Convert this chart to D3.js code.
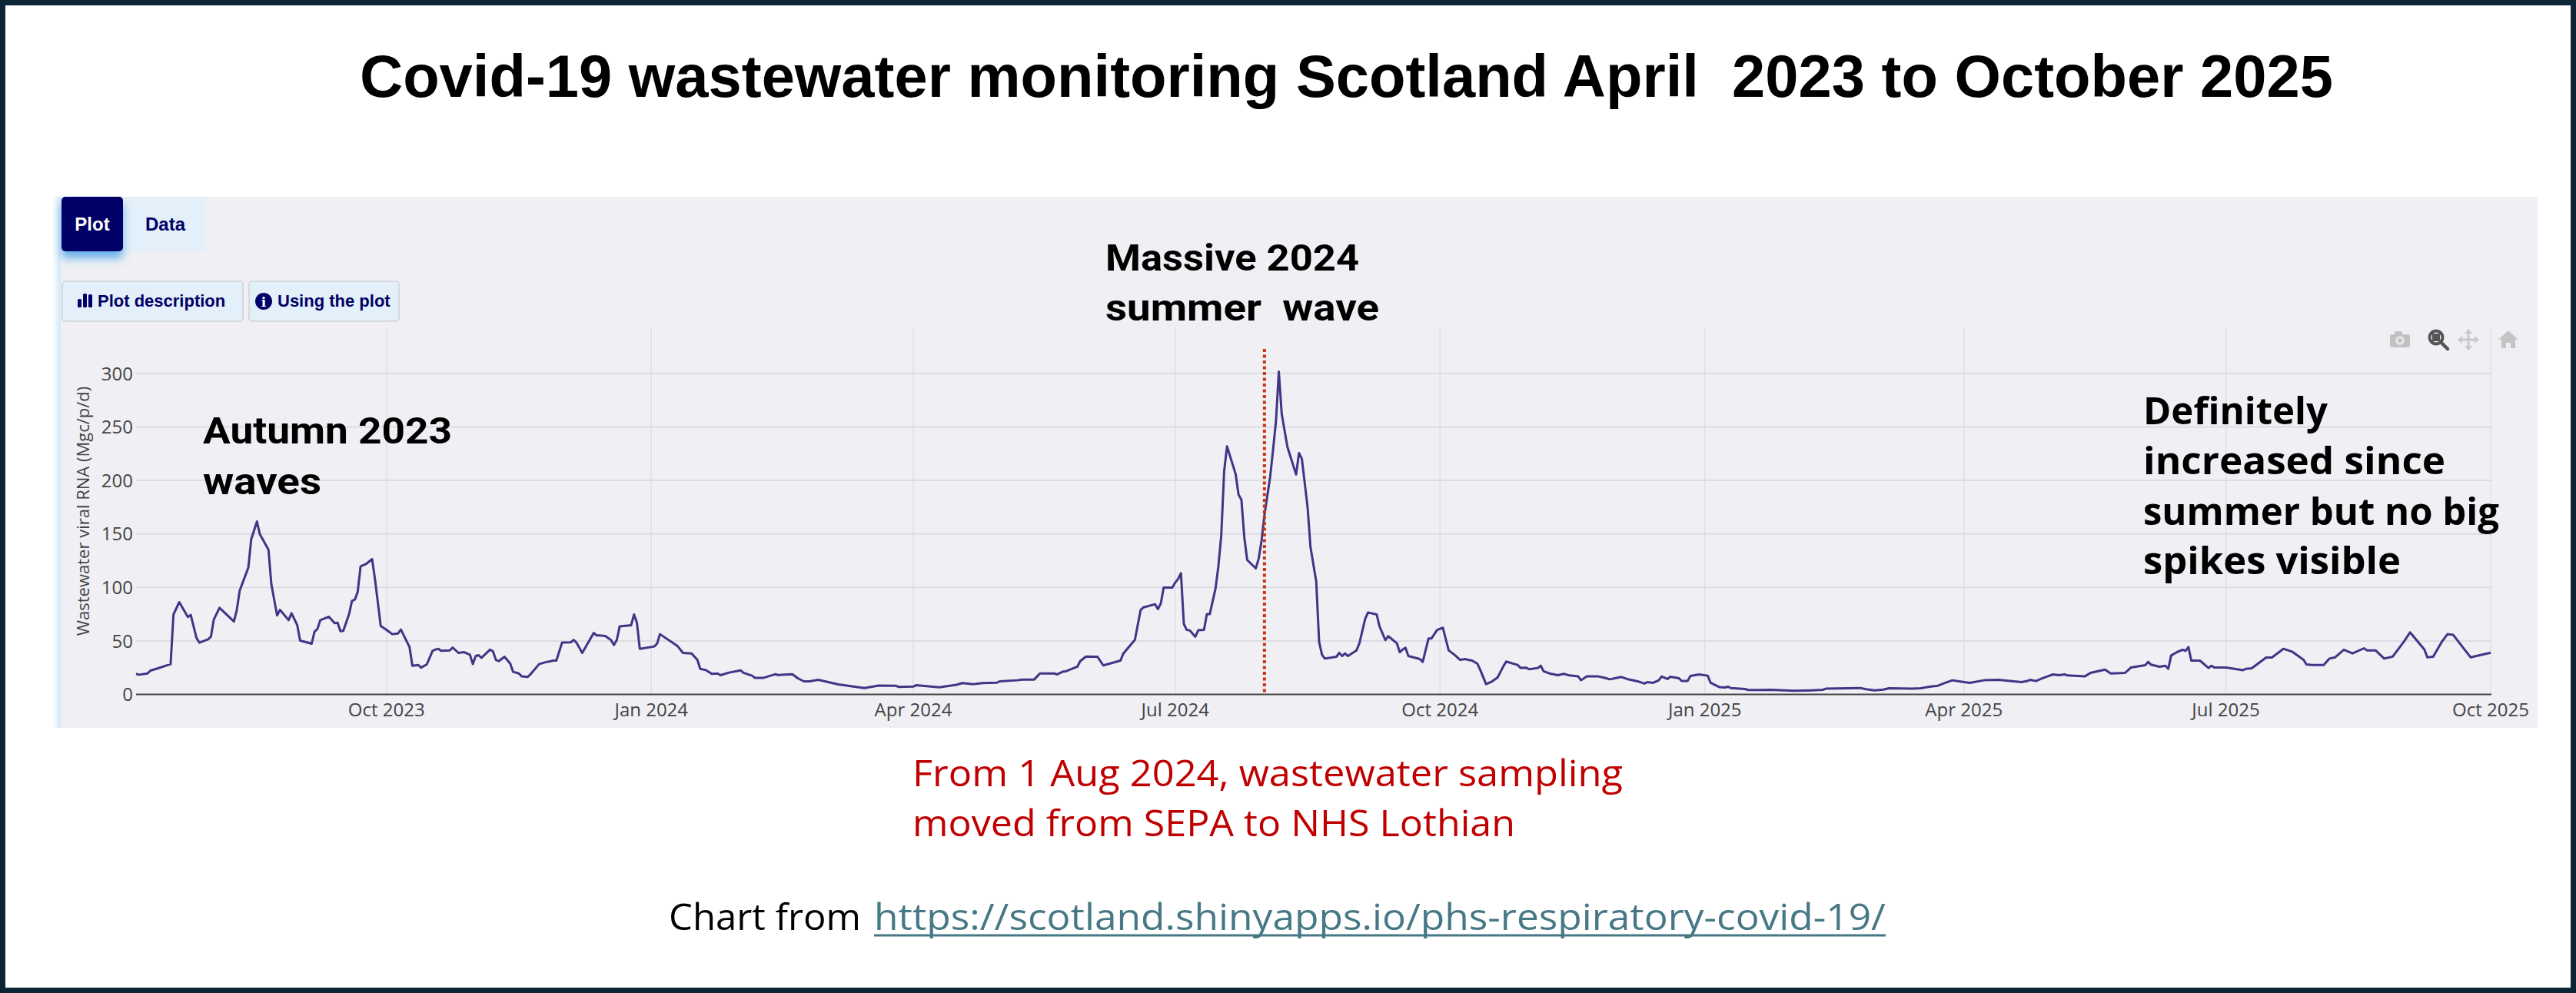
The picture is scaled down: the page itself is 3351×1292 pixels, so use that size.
<!DOCTYPE html>
<html>
<head>
<meta charset="utf-8">
<script src="https://cdn.jsdelivr.net/npm/d3@7"></script>
<style>
  html, body { margin: 0; padding: 0; background: #ffffff; }
  svg { display: block; }
</style>
</head>
<body>
<svg id="chart" width="3351" height="1292"></svg>
<script>
// values (7-day wastewater series, Mgc/p/d)
var sampleDates = [
  "2023-07-06","2023-07-07","2023-07-10","2023-07-11","2023-07-13","2023-07-18","2023-07-19","2023-07-21",
  "2023-07-24","2023-07-25","2023-07-27","2023-07-28","2023-07-31","2023-08-01","2023-08-02","2023-08-04",
  "2023-08-09","2023-08-10","2023-08-11","2023-08-14","2023-08-15","2023-08-17","2023-08-18","2023-08-21",
  "2023-08-22","2023-08-24","2023-08-25","2023-08-28","2023-08-29","2023-08-31","2023-09-01","2023-09-05",
  "2023-09-06","2023-09-07","2023-09-08","2023-09-11","2023-09-13","2023-09-14","2023-09-15","2023-09-16",
  "2023-09-18","2023-09-19","2023-09-20","2023-09-21","2023-09-22","2023-09-24","2023-09-26","2023-09-27",
  "2023-09-29","2023-10-01","2023-10-03","2023-10-05","2023-10-06","2023-10-09","2023-10-10","2023-10-12",
  "2023-10-13","2023-10-15","2023-10-17","2023-10-18","2023-10-19","2023-10-20","2023-10-23","2023-10-24",
  "2023-10-26","2023-10-28","2023-10-30","2023-10-31","2023-11-01","2023-11-02","2023-11-03","2023-11-06",
  "2023-11-07","2023-11-08","2023-11-09","2023-11-11","2023-11-13","2023-11-14","2023-11-16","2023-11-17",
  "2023-11-19","2023-11-20","2023-11-23","2023-11-25","2023-11-28","2023-11-29","2023-12-01","2023-12-04",
  "2023-12-05","2023-12-06","2023-12-08","2023-12-12","2023-12-13","2023-12-14","2023-12-16","2023-12-18",
  "2023-12-19","2023-12-20","2023-12-21","2023-12-25","2023-12-26","2023-12-27","2023-12-28","2024-01-02",
  "2024-01-03","2024-01-04","2024-01-10","2024-01-12","2024-01-15","2024-01-17","2024-01-18","2024-01-20",
  "2024-01-22","2024-01-24","2024-01-25","2024-01-28","2024-02-01","2024-02-02","2024-02-05","2024-02-06",
  "2024-02-09","2024-02-13","2024-02-14","2024-02-19","2024-02-21","2024-02-23","2024-02-25","2024-02-28",
  "2024-03-06","2024-03-15","2024-03-20","2024-03-26","2024-03-27","2024-04-01","2024-04-02","2024-04-10",
  "2024-04-16","2024-04-18","2024-04-22","2024-04-25","2024-04-30","2024-05-01","2024-05-07","2024-05-09",
  "2024-05-13","2024-05-15","2024-05-20","2024-05-21","2024-05-23","2024-05-24","2024-05-28","2024-05-29",
  "2024-05-31","2024-06-04","2024-06-06","2024-06-12","2024-06-13","2024-06-17","2024-06-19","2024-06-20",
  "2024-06-24","2024-06-25","2024-06-26","2024-06-27","2024-06-30","2024-07-01","2024-07-02","2024-07-03",
  "2024-07-04","2024-07-05","2024-07-06","2024-07-08","2024-07-09","2024-07-11","2024-07-12","2024-07-13",
  "2024-07-15","2024-07-16","2024-07-17","2024-07-18","2024-07-19","2024-07-22","2024-07-23","2024-07-24",
  "2024-07-25","2024-07-26","2024-07-29","2024-07-30","2024-07-31","2024-08-01","2024-08-03","2024-08-04",
  "2024-08-05","2024-08-06","2024-08-07","2024-08-09","2024-08-12","2024-08-13","2024-08-14","2024-08-16",
  "2024-08-17","2024-08-19","2024-08-20","2024-08-21","2024-08-22","2024-08-26","2024-08-27","2024-08-28",
  "2024-08-29","2024-08-30","2024-09-02","2024-09-03","2024-09-05","2024-09-06","2024-09-09","2024-09-10",
  "2024-09-12","2024-09-13","2024-09-16","2024-09-17","2024-09-18","2024-09-19","2024-09-20","2024-09-24",
  "2024-09-25","2024-09-27","2024-09-28","2024-09-30","2024-10-02","2024-10-04","2024-10-06","2024-10-08",
  "2024-10-10","2024-10-11","2024-10-12","2024-10-14","2024-10-15","2024-10-17","2024-10-19","2024-10-21",
  "2024-10-23","2024-10-24","2024-10-27","2024-10-28","2024-10-29","2024-10-31","2024-11-01","2024-11-04",
  "2024-11-05","2024-11-06","2024-11-08","2024-11-11","2024-11-13","2024-11-15","2024-11-18","2024-11-19",
  "2024-11-21","2024-11-25","2024-11-27","2024-11-29","2024-12-03","2024-12-05","2024-12-09","2024-12-11",
  "2024-12-12","2024-12-14","2024-12-16","2024-12-17","2024-12-19","2024-12-20","2024-12-23","2024-12-24",
  "2024-12-26","2024-12-27","2024-12-30","2025-01-02","2025-01-03","2025-01-06","2025-01-08","2025-01-09",
  "2025-01-10","2025-01-15","2025-01-16","2025-01-24","2025-02-01","2025-02-07","2025-02-11","2025-02-12",
  "2025-02-24","2025-02-26","2025-03-01","2025-03-04","2025-03-06","2025-03-14","2025-03-17","2025-03-20",
  "2025-03-23","2025-03-25","2025-03-28","2025-04-03","2025-04-08","2025-04-13","2025-04-21","2025-04-23",
  "2025-04-24","2025-04-26","2025-04-28","2025-04-30","2025-05-02","2025-05-04","2025-05-06","2025-05-07",
  "2025-05-13","2025-05-15","2025-05-20","2025-05-22","2025-05-27","2025-05-29","2025-06-03","2025-06-04",
  "2025-06-05","2025-06-08","2025-06-10","2025-06-11","2025-06-12","2025-06-14","2025-06-16","2025-06-17",
  "2025-06-18","2025-06-19","2025-06-22","2025-06-25","2025-06-26","2025-06-27","2025-07-01","2025-07-04",
  "2025-07-07","2025-07-08","2025-07-10","2025-07-15","2025-07-17","2025-07-21","2025-07-24","2025-07-28",
  "2025-07-29","2025-07-31","2025-08-04","2025-08-06","2025-08-08","2025-08-11","2025-08-14","2025-08-18",
  "2025-08-19","2025-08-22","2025-08-25","2025-08-28","2025-09-01","2025-09-03","2025-09-08","2025-09-09",
  "2025-09-11","2025-09-14","2025-09-16","2025-09-18","2025-09-24","2025-10-01"
];
var viralRna = [
  19.2,18.4,19.6,22.3,23.9,28.3,74.7,86.2,
  72.3,74.2,52.7,48.4,51.5,53.9,69.9,80.9,
  68.2,79.0,97.0,118.5,144.9,161.6,149.7,135.3,
  103.0,73.8,79.0,69.4,75.9,64.7,50.3,47.4,
  58.7,61.1,69.4,72.6,66.6,67.0,59.1,59.4,
  75.0,87.4,88.6,95.8,119.7,122.1,126.4,107.8,
  63.9,60.3,56.3,57.0,60.6,44.3,26.8,27.5,
  25.1,28.0,40.7,41.9,42.6,40.7,41.2,43.8,
  38.8,39.5,37.1,28.3,35.9,36.6,34.2,41.9,
  40.2,32.3,31.1,35.2,28.7,21.1,19.6,16.8,
  16.3,18.7,28.3,29.9,31.6,31.6,48.4,48.6,
  51.0,48.4,38.8,57.5,55.1,55.1,54.6,50.8,
  46.2,50.8,63.5,64.7,74.7,67.0,42.6,44.8,
  47.4,56.3,45.5,38.8,38.3,32.3,23.9,22.7,
  19.2,19.6,18.0,20.4,22.5,20.2,17.5,15.5,
  15.5,18.8,18.2,18.8,14.9,12.2,12.2,13.6,
  9.3,6.0,8.3,8.0,7.0,7.3,8.6,6.6,
  9.0,10.6,9.6,10.6,10.9,12.2,13.2,13.9,
  13.9,19.6,19.6,18.7,21.3,21.6,25.9,31.1,
  35.4,35.2,27.1,31.6,38.3,51.0,79.0,81.4,
  84.3,79.7,85.0,99.9,99.9,104.6,107.8,113.3,
  65.9,60.3,59.9,53.9,59.9,60.3,75.0,75.0,
  98.9,119.7,148.5,208.3,231.8,205.9,186.8,182.0,
  147.3,125.7,117.8,126.9,143.7,167.6,203.5,228.7,
  255.0,301.7,262.2,231.1,205.5,225.6,220.3,174.8,
  137.7,105.4,49.1,37.1,33.5,35.2,38.8,35.9,
  38.3,35.9,41.2,47.9,70.6,76.6,74.7,63.5,
  50.8,54.4,47.9,39.5,41.9,43.6,35.9,33.0,
  30.4,52.2,52.2,60.3,62.3,41.2,37.1,32.3,
  33.0,32.1,31.8,28.7,22.7,9.6,12.0,15.8,
  26.3,30.7,28.3,27.5,24.7,24.9,23.5,24.7,
  26.8,21.6,19.6,18.0,19.2,17.7,16.8,13.2,
  16.8,16.8,15.6,14.1,16.3,14.4,12.0,10.1,
  11.5,10.8,13.2,16.8,14.4,16.5,15.1,12.5,
  12.5,17.2,18.7,17.5,10.8,6.9,6.5,7.2,
  6.0,5.0,4.1,4.3,3.4,3.8,4.3,5.3,
  6.0,4.8,3.8,4.5,5.7,5.3,5.7,7.2,
  8.1,10.3,13.2,10.8,13.2,13.6,11.5,12.5,
  13.6,12.5,14.8,16.8,18.7,18.0,18.7,17.7,
  16.8,20.1,23.2,19.6,20.1,25.1,27.3,30.4,
  27.8,25.9,26.8,23.9,36.4,39.5,41.7,40.7,
  44.3,31.6,31.6,24.7,26.8,25.1,25.1,23.9,
  22.7,23.9,24.4,34.5,34.5,42.6,40.0,32.3,
  28.0,27.5,27.5,33.5,34.7,41.7,38.3,43.1,
  41.2,41.2,33.5,35.4,49.8,58.0,41.9,34.7,
  35.2,49.1,56.3,55.6,34.7,39.0
];

var yTicks = [0, 50, 100, 150, 200, 250, 300];
var xTickDates = ["2023-10-01","2024-01-01","2024-04-01","2024-07-01","2024-10-01",
                  "2025-01-01","2025-04-01","2025-07-01","2025-10-01"];
var changeoverDate = "2024-08-01";

var titleText = "Covid-19 wastewater monitoring Scotland April  2023 to October 2025";
var autumnNote = ["Autumn 2023", "waves"];
var summerNote = ["Massive 2024", "summer  wave"];
var recentNote = ["Definitely", "increased since", "summer but no big", "spikes visible"];
var redNote = ["From 1 Aug 2024, wastewater sampling", "moved from SEPA to NHS Lothian"];
var sourceUrl = "https://scotland.shinyapps.io/phs-respiratory-covid-19/";

var parse = d3.utcParse("%Y-%m-%d");
var series = sampleDates.map(function(d, i) { return { date: parse(d), value: viralRna[i] }; });

var svg = d3.select("#chart");

// frame: dark border round a white slide
svg.append("rect").attr("width", 3351).attr("height", 1292).attr("fill", "#0b2536");
svg.append("rect").attr("x", 7).attr("y", 7).attr("width", 3337).attr("height", 1278).attr("fill", "#ffffff");

var defs = svg.append("defs");
var grad = defs.append("linearGradient").attr("id", "leftGlow");
grad.append("stop").attr("offset", "0%").attr("stop-color", "#cfe5f7").attr("stop-opacity", 0);
grad.append("stop").attr("offset", "100%").attr("stop-color", "#cfe5f7").attr("stop-opacity", 1);
var glow = defs.append("filter").attr("id", "tabGlow").attr("x", "-40%").attr("y", "-40%").attr("width", "180%").attr("height", "200%");
glow.append("feDropShadow").attr("dx", 0).attr("dy", 9).attr("stdDeviation", 6)
  .attr("flood-color", "#3b9be8").attr("flood-opacity", 0.75);

// title
svg.append("text")
  .attr("x", 468).attr("y", 126)
  .attr("textLength", 2567).attr("lengthAdjust", "spacingAndGlyphs")
  .style("font-family", "Liberation Sans, Arial, sans-serif")
  .style("font-weight", "bold").style("font-size", "78px")
  .style("white-space", "pre")
  .attr("fill", "#000")
  .text(titleText);

// grey panel of the app
svg.append("rect").attr("x", 68).attr("y", 256).attr("width", 12).attr("height", 691).attr("fill", "url(#leftGlow)");
svg.append("rect").attr("x", 79).attr("y", 256).attr("width", 3222).attr("height", 691).attr("fill", "#efeff4");

// tabs
svg.append("rect").attr("x", 163).attr("y", 256).attr("width", 104).attr("height", 71).attr("rx", 5).attr("fill", "#e3eff9");
svg.append("rect").attr("x", 80).attr("y", 256).attr("width", 80).attr("height", 71).attr("rx", 5)
  .attr("fill", "#000066").attr("filter", "url(#tabGlow)");
svg.append("text").attr("x", 120).attr("y", 300).attr("text-anchor", "middle")
  .style("font-family", "Liberation Sans, Arial, sans-serif").style("font-weight", "bold").style("font-size", "24px")
  .attr("fill", "#ffffff").text("Plot");
svg.append("text").attr("x", 215).attr("y", 300).attr("text-anchor", "middle")
  .style("font-family", "Liberation Sans, Arial, sans-serif").style("font-weight", "bold").style("font-size", "24px")
  .attr("fill", "#000066").text("Data");

// buttons
svg.append("rect").attr("x", 81).attr("y", 366).attr("width", 235).attr("height", 52).attr("rx", 4)
  .attr("fill", "#e3eff9").attr("stroke", "#cfd3d8").attr("stroke-width", 1.5);
svg.append("rect").attr("x", 324).attr("y", 366).attr("width", 195).attr("height", 52).attr("rx", 4)
  .attr("fill", "#e3eff9").attr("stroke", "#cfd3d8").attr("stroke-width", 1.5);
[[101, 389, 11], [108, 382, 18], [115, 383, 17]].forEach(function(b) {
  svg.append("rect").attr("x", b[0]).attr("y", b[1]).attr("width", 5).attr("height", b[2]).attr("rx", 1.5).attr("fill", "#000066");
});
svg.append("text").attr("x", 127).attr("y", 399)
  .style("font-family", "Liberation Sans, Arial, sans-serif").style("font-weight", "bold").style("font-size", "22px")
  .attr("fill", "#000066").text("Plot description");
svg.append("circle").attr("cx", 343).attr("cy", 392).attr("r", 11).attr("fill", "#000066");
svg.append("text").attr("x", 343).attr("y", 399).attr("text-anchor", "middle")
  .style("font-family", "DejaVu Serif, serif").style("font-weight", "bold").style("font-size", "17px")
  .attr("fill", "#ffffff").text("i");
svg.append("text").attr("x", 361).attr("y", 399)
  .style("font-family", "Liberation Sans, Arial, sans-serif").style("font-weight", "bold").style("font-size", "22px")
  .attr("fill", "#000066").text("Using the plot");

// plot area
var x = d3.scaleUtc().domain([parse("2023-07-06"), parse("2025-10-01")]).range([177, 3240]);
var y = d3.scaleLinear().domain([0, 343]).range([903.5, 426]);

var grid = svg.append("g");
grid.selectAll("line.v").data(xTickDates).enter().append("line")
  .attr("x1", function(d) { return x(parse(d)); }).attr("x2", function(d) { return x(parse(d)); })
  .attr("y1", y(343)).attr("y2", y(0))
  .attr("stroke", "#dfdfe6").attr("stroke-width", 1.5);
grid.selectAll("line.h").data(yTicks.filter(function(t) { return t > 0; })).enter().append("line")
  .attr("x1", 177).attr("x2", 3241)
  .attr("y1", function(d) { return y(d); }).attr("y2", function(d) { return y(d); })
  .attr("stroke", "#dcdce3").attr("stroke-width", 2);

// axes text
var tickFont = "Open Sans, DejaVu Sans, sans-serif";
svg.selectAll("text.ytick").data(yTicks).enter().append("text")
  .attr("x", 173).attr("y", function(d) { return y(d); }).attr("dy", "0.36em")
  .attr("text-anchor", "end")
  .style("font-family", tickFont).style("font-size", "24px")
  .attr("fill", "#444").text(function(d) { return d; });
svg.selectAll("text.xtick").data(xTickDates).enter().append("text")
  .attr("x", function(d) { return x(parse(d)); }).attr("y", 932)
  .attr("text-anchor", "middle")
  .style("font-family", tickFont).style("font-size", "24px")
  .attr("fill", "#444").text(function(d) { return d3.utcFormat("%b %Y")(parse(d)); });
svg.append("text")
  .attr("transform", "translate(116,665) rotate(-90)")
  .attr("text-anchor", "middle")
  .style("font-family", tickFont).style("font-size", "22px")
  .attr("fill", "#444").text("Wastewater viral RNA (Mgc/p/d)");

// zero line
svg.append("line").attr("x1", 177).attr("x2", 3241).attr("y1", y(0)).attr("y2", y(0))
  .attr("stroke", "#444").attr("stroke-width", 2);

// the series
var line = d3.line().x(function(d) { return x(d.date); }).y(function(d) { return y(d.value); });
svg.append("path").datum(series)
  .attr("d", line)
  .attr("fill", "none").attr("stroke", "#3f3685").attr("stroke-width", 3).attr("stroke-linejoin", "round");

// sampling changeover marker
svg.append("line")
  .attr("x1", x(parse(changeoverDate))).attr("x2", x(parse(changeoverDate)))
  .attr("y1", 454).attr("y2", y(0))
  .attr("stroke", "#cc3311").attr("stroke-width", 4).attr("stroke-dasharray", "4,3.5");

// modebar icons
var mb = svg.append("g");
mb.append("rect").attr("x", 3109).attr("y", 435).attr("width", 26).attr("height", 17).attr("rx", 3).attr("fill", "#c2c2c2");
mb.append("rect").attr("x", 3115).attr("y", 431).attr("width", 10).attr("height", 6).attr("rx", 1.5).attr("fill", "#c2c2c2");
mb.append("circle").attr("cx", 3122).attr("cy", 443).attr("r", 5.5).attr("fill", "#efeff4");
mb.append("circle").attr("cx", 3122).attr("cy", 443).attr("r", 3).attr("fill", "#c2c2c2");
mb.append("circle").attr("cx", 3169).attr("cy", 439).attr("r", 8.5).attr("fill", "none").attr("stroke", "#555").attr("stroke-width", 4);
mb.append("rect").attr("x", 3164).attr("y", 434).attr("width", 10).attr("height", 10).attr("fill", "#555");
mb.append("line").attr("x1", 3175).attr("y1", 445).attr("x2", 3184).attr("y2", 454).attr("stroke", "#555").attr("stroke-width", 4.5).attr("stroke-linecap", "round");
var pan = mb.append("g").attr("transform", "translate(3211,442)").attr("fill", "#c8c8c8").attr("stroke", "#c8c8c8");
pan.append("line").attr("x1", -11).attr("x2", 11).attr("y1", 0).attr("y2", 0).attr("stroke-width", 3);
pan.append("line").attr("y1", -11).attr("y2", 11).attr("x1", 0).attr("x2", 0).attr("stroke-width", 3);
[[0, -14, -5, -8, 5, -8], [0, 14, -5, 8, 5, 8], [-14, 0, -8, -5, -8, 5], [14, 0, 8, -5, 8, 5]].forEach(function(p) {
  pan.append("path").attr("stroke", "none").attr("d", "M" + p[0] + "," + p[1] + "L" + p[2] + "," + p[3] + "L" + p[4] + "," + p[5] + "Z");
});
mb.append("path").attr("fill", "#c4c4c4")
  .attr("d", "M3263,430 L3276,442 L3272,442 L3272,453 L3266,453 L3266,446 L3260,446 L3260,453 L3254,453 L3254,442 L3250,442 Z");

// annotations
function noteLines(lines, x0, baselines, widths, font, size) {
  lines.forEach(function(t, i) {
    svg.append("text").attr("x", x0).attr("y", baselines[i])
      .attr("textLength", widths[i]).attr("lengthAdjust", "spacingAndGlyphs")
      .style("font-family", font).style("font-weight", "bold").style("font-size", size)
      .style("white-space", "pre")
      .attr("fill", "#000").text(t);
  });
}
noteLines(autumnNote, 264, [577, 643], [324, 154], "Roboto, Liberation Sans, sans-serif", "48px");
noteLines(summerNote, 1438, [352, 417], [330, 356], "Roboto, Liberation Sans, sans-serif", "48px");
noteLines(recentNote, 2788, [552, 617, 683, 747], [240, 393, 463, 335], "Open Sans, sans-serif", "48px");

// red note under the chart
redNote.forEach(function(t, i) {
  svg.append("text").attr("x", 1187).attr("y", [1023, 1088][i])
    .attr("textLength", [924, 784][i]).attr("lengthAdjust", "spacingAndGlyphs")
    .style("font-family", "Open Sans, sans-serif").style("font-size", "47px")
    .attr("fill", "#c00000").text(t);
});

// source line
svg.append("text").attr("x", 870).attr("y", 1210)
  .attr("textLength", 250).attr("lengthAdjust", "spacingAndGlyphs")
  .style("font-family", "Open Sans, sans-serif").style("font-size", "47px")
  .attr("fill", "#000").text("Chart from");
svg.append("text").attr("x", 1137).attr("y", 1210)
  .attr("textLength", 1316).attr("lengthAdjust", "spacingAndGlyphs")
  .style("font-family", "Open Sans, sans-serif").style("font-size", "47px")
  .attr("fill", "#467886").text(sourceUrl);
svg.append("line").attr("x1", 1137).attr("x2", 2453).attr("y1", 1217).attr("y2", 1217)
  .attr("stroke", "#467886").attr("stroke-width", 3);
</script>
</body>
</html>
